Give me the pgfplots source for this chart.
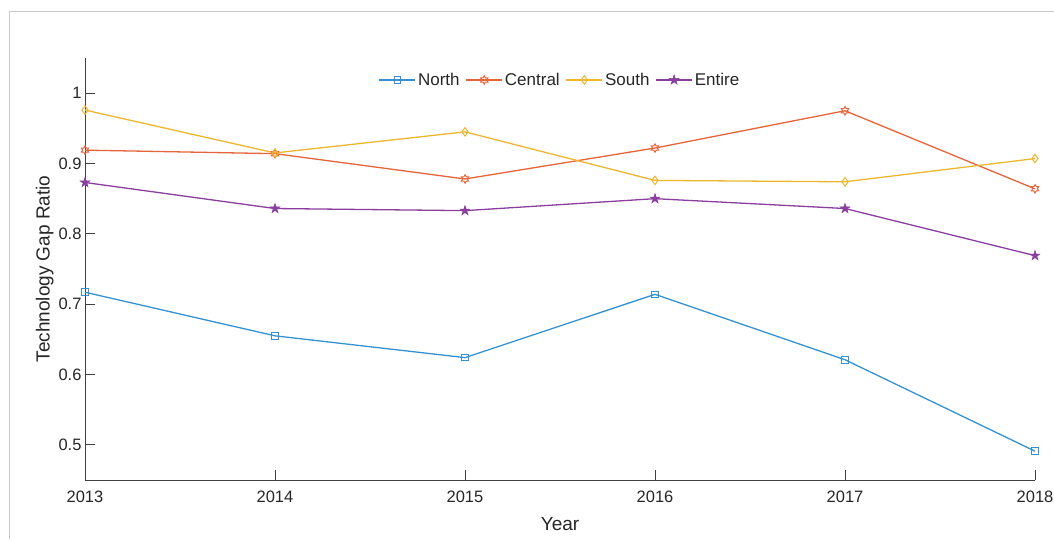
\documentclass[border=0pt]{standalone}
\usepackage{fontspec}
\setmainfont{Liberation Sans}
\usepackage{pgfplots}
\pgfplotsset{compat=1.18}
\definecolor{cN}{RGB}{52,146,210}
\definecolor{cC}{RGB}{230,100,58}
\definecolor{cS}{RGB}{236,182,46}
\definecolor{cE}{RGB}{138,62,158}
\definecolor{axgray}{RGB}{64,64,64}
\definecolor{txt}{RGB}{38,38,38}
\pgfdeclareplotmark{hexagram}{%
  \pgfpathmoveto{\pgfpointpolar{90}{\pgfplotmarksize}}%
  \pgfpathlineto{\pgfpointpolar{120}{0.577\pgfplotmarksize}}%
  \pgfpathlineto{\pgfpointpolar{150}{\pgfplotmarksize}}%
  \pgfpathlineto{\pgfpointpolar{180}{0.577\pgfplotmarksize}}%
  \pgfpathlineto{\pgfpointpolar{210}{\pgfplotmarksize}}%
  \pgfpathlineto{\pgfpointpolar{240}{0.577\pgfplotmarksize}}%
  \pgfpathlineto{\pgfpointpolar{270}{\pgfplotmarksize}}%
  \pgfpathlineto{\pgfpointpolar{300}{0.577\pgfplotmarksize}}%
  \pgfpathlineto{\pgfpointpolar{330}{\pgfplotmarksize}}%
  \pgfpathlineto{\pgfpointpolar{0}{0.577\pgfplotmarksize}}%
  \pgfpathlineto{\pgfpointpolar{30}{\pgfplotmarksize}}%
  \pgfpathlineto{\pgfpointpolar{60}{0.577\pgfplotmarksize}}%
  \pgfpathclose
  \pgfusepathqstroke}
\pgfdeclareplotmark{pentagram}{%
  \pgfpathmoveto{\pgfpointpolar{90}{\pgfplotmarksize}}%
  \pgfpathlineto{\pgfpointpolar{126}{0.382\pgfplotmarksize}}%
  \pgfpathlineto{\pgfpointpolar{162}{\pgfplotmarksize}}%
  \pgfpathlineto{\pgfpointpolar{198}{0.382\pgfplotmarksize}}%
  \pgfpathlineto{\pgfpointpolar{234}{\pgfplotmarksize}}%
  \pgfpathlineto{\pgfpointpolar{270}{0.382\pgfplotmarksize}}%
  \pgfpathlineto{\pgfpointpolar{306}{\pgfplotmarksize}}%
  \pgfpathlineto{\pgfpointpolar{342}{0.382\pgfplotmarksize}}%
  \pgfpathlineto{\pgfpointpolar{18}{\pgfplotmarksize}}%
  \pgfpathlineto{\pgfpointpolar{54}{0.382\pgfplotmarksize}}%
  \pgfpathclose
  \pgfusepathqfillstroke}
\begin{document}
\begin{tikzpicture}
\useasboundingbox (-85pt,-59pt) rectangle (969pt,480pt);
\draw[black!22, line width=1pt] (-75pt,-59pt) -- (-75pt,468pt) -- (969pt,468pt);
\begin{axis}[
  scale only axis,
  width=950pt, height=422pt,
  at={(0,0)}, anchor=south west,
  xmin=2013, xmax=2018, ymin=0.45, ymax=1.05,
  axis x line*=bottom, axis y line*=left,
  axis line style={-, axgray, line width=0.9pt},
  tick style={axgray, line width=0.9pt},
  tick align=inside, major tick length=10pt,
  xtick={2013,2014,2015,2016,2017,2018},
  ytick={0.5,0.6,0.7,0.8,0.9,1},
  yticklabels={0.5,0.6,0.7,0.8,0.9,1},
  xticklabel style={/pgf/number format/1000 sep=, yshift=-7pt},
  /pgf/number format/assume math mode=true,
  ticklabel style={font=\fontsize{16.5}{19}\selectfont, text=txt},
  xlabel={Year}, ylabel={Technology Gap Ratio},
  label style={font=\fontsize{19}{22}\selectfont, text=txt},
  xlabel style={yshift=-8pt},
  ylabel style={yshift=-2pt},
  legend style={at={(0.5,0.948)}, anchor=center, draw=none, fill=none,
    font=\fontsize{17}{20}\selectfont, text=txt,
    /tikz/every even column/.append style={column sep=4pt}},
  legend columns=4,
  legend image code/.code={%
    \draw[mark repeat=2,mark phase=2] plot coordinates {(0pt,0pt) (18pt,0pt) (36pt,0pt)};},
  every axis plot/.append style={line width=1.3pt},
]
\addplot[cN, mark=square, mark size=3.3pt, mark options={line width=1pt}] coordinates {
(2013,0.717) (2014,0.655) (2015,0.624) (2016,0.714) (2017,0.621) (2018,0.491)};
\addlegendentry{North}
\addplot[cC, mark=hexagram, mark size=4.2pt, mark options={line width=1pt}] coordinates {
(2013,0.919) (2014,0.914) (2015,0.878) (2016,0.922) (2017,0.975) (2018,0.864)};
\addlegendentry{Central}
\addplot[cS, mark=diamond, mark size=4.2pt, mark options={line width=1pt}] coordinates {
(2013,0.976) (2014,0.915) (2015,0.945) (2016,0.876) (2017,0.874) (2018,0.907)};
\addlegendentry{South}
\addplot[cE, mark=pentagram, mark size=5pt, mark options={line width=0.6pt, fill=cE}] coordinates {
(2013,0.873) (2014,0.836) (2015,0.833) (2016,0.850) (2017,0.836) (2018,0.769)};
\addlegendentry{Entire}
\end{axis}
\end{tikzpicture}
\end{document}
